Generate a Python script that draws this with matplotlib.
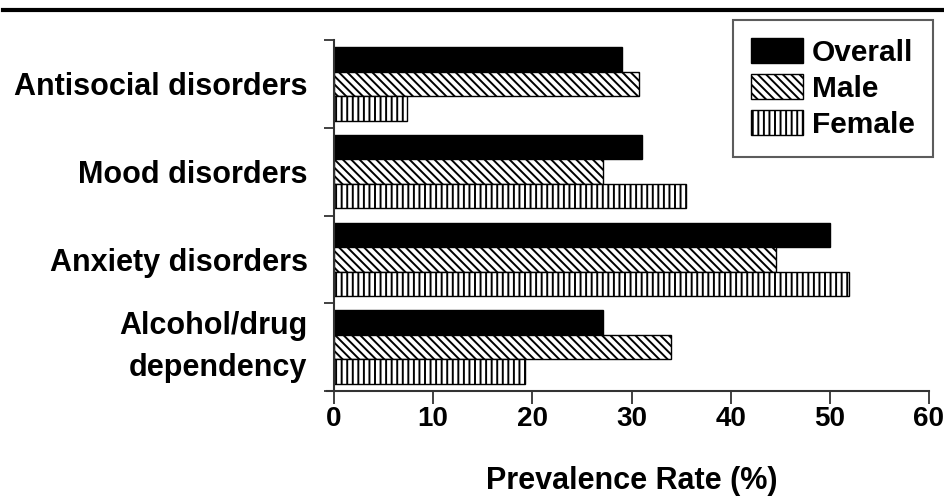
import matplotlib
matplotlib.use("Agg")
import matplotlib.pyplot as plt
import numpy as np
from matplotlib.lines import Line2D

categories = ["Antisocial disorders", "Mood disorders", "Anxiety disorders", "Alcohol/drug\ndependency"]
overall = [29.0, 31.1, 50.0, 27.1]
male = [30.8, 27.1, 44.6, 34.0]
female = [7.4, 35.5, 51.9, 19.3]
series_names = ["Overall", "Male", "Female"]
xticks = [0, 10, 20, 30, 40, 50, 60]

plt.rcParams['font.family'] = ['Liberation Sans', 'DejaVu Sans']
plt.rcParams['font.weight'] = 'bold'
plt.rcParams['hatch.linewidth'] = 1.4

BS = chr(92)
fig = plt.figure(figsize=(9.45, 5.0), dpi=100)
ax = fig.add_axes([334/945, 1-391/500, (929-334)/945, (391-40)/500])

n = len(categories)
ypos = np.arange(n)[::-1]  # top category at highest y
h = 0.28
ax.barh(ypos + h, overall, height=h, color='black', edgecolor='black', linewidth=1, label=series_names[0])
ax.barh(ypos, male, height=h, color='white', edgecolor='black', linewidth=1, hatch=BS * 4, label=series_names[1])
ax.barh(ypos - h, female, height=h, color='white', edgecolor='black', linewidth=1, hatch='|||', label=series_names[2])

ax.set_xlim(0, 60)
ax.set_ylim(-0.5, n - 0.5)
ax.set_xticks(xticks)
ax.set_xticklabels([str(v) for v in xticks], fontsize=20, fontweight='bold')
ax.set_yticks(ypos)
ax.set_yticklabels(categories, fontsize=22, fontweight='bold', linespacing=1.5)
for lab in ax.get_yticklabels():
    if "\n" in lab.get_text():
        lab.set_va('center')
ax.set_yticks(np.arange(-0.5, n, 1.0), minor=True)
ax.tick_params(axis='y', which='major', length=0, pad=19)
ax.tick_params(axis='y', which='minor', length=7, width=1.3, color='#333333', direction='out')
ax.tick_params(axis='x', which='major', length=9, width=1.3, color='#333333', direction='out', pad=2)

for s in ['top', 'right']:
    ax.spines[s].set_visible(False)
for s in ['left', 'bottom']:
    ax.spines[s].set_linewidth(1.5)
    ax.spines[s].set_color('#333333')
ax.spines['bottom'].set_bounds(-0.7, 60)

ax.set_xlabel("Prevalence Rate (%)", fontsize=22, fontweight='bold', labelpad=24)

leg = fig.legend(loc='upper right', bbox_to_anchor=(933/945, 1-20/500), frameon=True, fancybox=False,
                 fontsize=21.5, handlelength=1.75, handleheight=0.9, handletextpad=0.3,
                 labelspacing=0.25, borderpad=0.6, borderaxespad=0)
leg.get_frame().set_edgecolor('#333333')
leg.get_frame().set_linewidth(1.5)
for t in leg.get_texts():
    t.set_fontweight('bold')

fig.add_artist(Line2D([3/945, 1.0], [1-10/500, 1-10/500], color='black', linewidth=3, transform=fig.transFigure))

fig.savefig("out.png", dpi=100)
